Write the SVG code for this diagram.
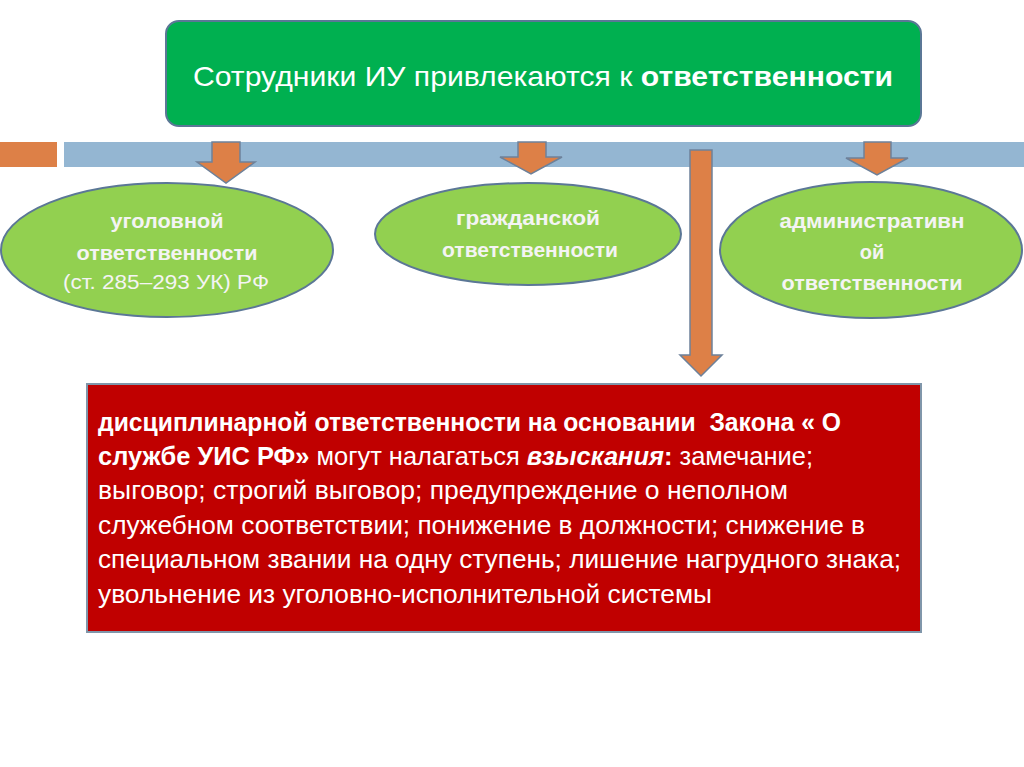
<svg xmlns="http://www.w3.org/2000/svg" width="1024" height="767" viewBox="0 0 1024 767">
<style>
.t{font-family:"Liberation Sans",Arial,sans-serif;fill:#ffffff}
.b{font-weight:bold}
.ell{fill:#92D050;stroke:#5B7796;stroke-width:2}
.arr{fill:#DD8047;stroke:#6D819A;stroke-width:1.5}
.et{font-family:"Liberation Sans",Arial,sans-serif;fill:#F4F4F4;font-size:20px;text-anchor:middle}
</style>
<rect x="0" y="0" width="1024" height="767" fill="#ffffff"/>
<g id="bar">
<rect x="0" y="142" width="57" height="25" fill="#DD8047"/>
<rect x="64" y="142" width="960" height="25" fill="#94B6D2"/>
</g>
<g id="title">
<rect x="166" y="21" width="755" height="105" rx="13" fill="#00B050" stroke="#5B7796" stroke-width="2"/>
<text class="t" x="193" y="86" font-size="28" textLength="700" lengthAdjust="spacingAndGlyphs">Сотрудники ИУ привлекаются к <tspan class="b">ответственности</tspan></text>
</g>
<g id="connectors">
<polygon class="arr" points="212,142 240,142 240,162 255,162 226,183 197,162 212,162"/>
<polygon class="arr" points="518,142 546,142 546,157 562,157 531,174 500,157 518,157"/>
<polygon class="arr" points="864,142 891,142 891,158 908,158 877,175 846,158 864,158"/>
<polygon class="arr" points="690,150 712,150 712,355 722,355 701,376 680,355 690,355"/>
</g>
<g id="n1">
<ellipse class="ell" cx="167" cy="250" rx="166" ry="67"/>
<text class="et b" x="167" y="228" textLength="113" lengthAdjust="spacingAndGlyphs">уголовной</text>
<text class="et b" x="167" y="260" textLength="181" lengthAdjust="spacingAndGlyphs">ответственности</text>
<text class="et" x="166" y="289" font-size="21" textLength="206" lengthAdjust="spacingAndGlyphs">(ст. 285–293 УК) РФ</text>
</g>
<g id="n2">
<ellipse class="ell" cx="528" cy="234" rx="153" ry="51"/>
<text class="et b" x="528" y="225" font-size="19" textLength="144" lengthAdjust="spacingAndGlyphs">гражданской</text>
<text class="et b" x="530" y="257" font-size="19" textLength="176" lengthAdjust="spacingAndGlyphs">ответственности</text>
</g>
<g id="n3">
<ellipse class="ell" cx="871" cy="250" rx="151" ry="68"/>
<text class="et b" x="872" y="228" textLength="185" lengthAdjust="spacingAndGlyphs">административн</text>
<text class="et b" x="872" y="259">ой</text>
<text class="et b" x="872" y="290" textLength="181" lengthAdjust="spacingAndGlyphs">ответственности</text>
</g>
<g id="n4">
<rect x="87" y="384" width="834" height="248" fill="#C00000" stroke="#8096AA" stroke-width="2"/>
<g class="t" font-size="25">
<text x="98" y="431" xml:space="preserve" textLength="743" lengthAdjust="spacingAndGlyphs"><tspan class="b">дисциплинарной ответственности на основании  Закона « О</tspan></text>
<text x="98" y="465" textLength="715" lengthAdjust="spacingAndGlyphs"><tspan class="b">службе УИС РФ»</tspan> могут налагаться <tspan class="b" font-style="italic">взыскания</tspan><tspan class="b">:</tspan> замечание;</text>
<text x="98" y="499" textLength="690" lengthAdjust="spacingAndGlyphs">выговор; строгий выговор; предупреждение о неполном</text>
<text x="98" y="534" textLength="767" lengthAdjust="spacingAndGlyphs">служебном соответствии; понижение в должности; снижение в</text>
<text x="98" y="568" textLength="803" lengthAdjust="spacingAndGlyphs">специальном звании на одну ступень; лишение нагрудного знака;</text>
<text x="98" y="603" textLength="614" lengthAdjust="spacingAndGlyphs">увольнение из уголовно-исполнительной системы</text>
</g>
</g>
</svg>
